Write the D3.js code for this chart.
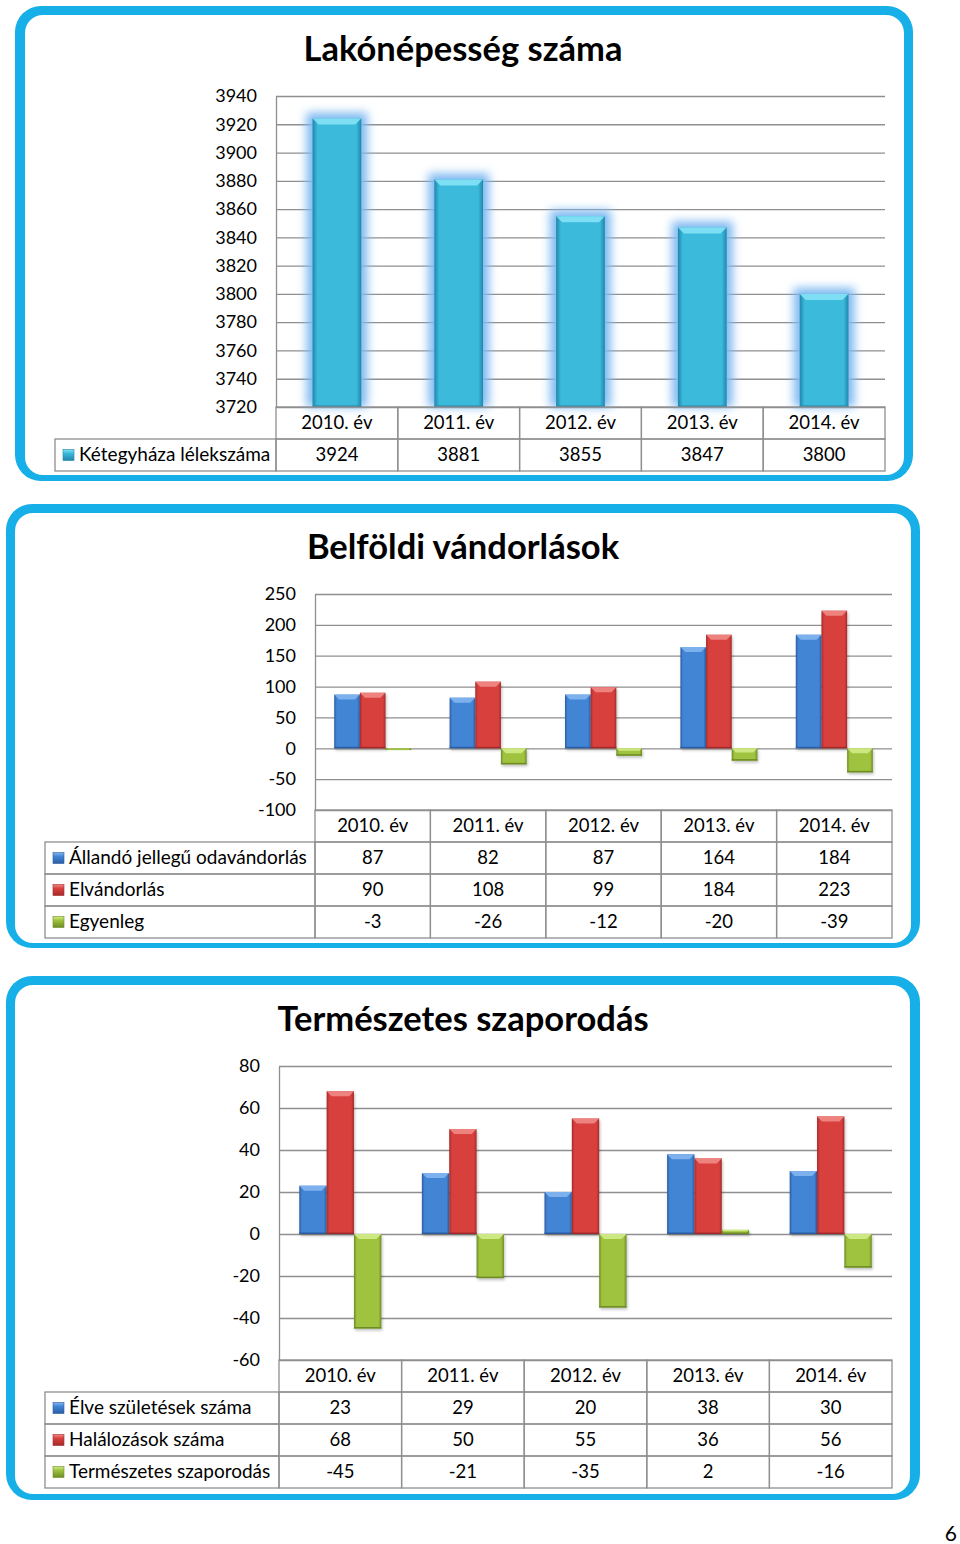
<!DOCTYPE html>
<html><head><meta charset="utf-8">
<script src="https://cdn.jsdelivr.net/npm/d3@7"></script>
<style>
body{margin:0;background:#fff}
svg{display:block}
text{font-family:Lato,"Open Sans",sans-serif}
</style>
</head><body>
<svg id="c" width="960" height="1544"></svg>
<script>
// ---------- data ----------
const years = ["2010. év", "2011. év", "2012. év", "2013. év", "2014. év"];

const populationTitle = "Lakónépesség száma";
const populationLabel = "Kétegyháza lélekszáma";
const population = [3924, 3881, 3855, 3847, 3800];
const populationTicks = [3720, 3740, 3760, 3780, 3800, 3820, 3840, 3860, 3880, 3900, 3920, 3940];

const migrationTitle = "Belföldi vándorlások";
const migrationLabels = ["Állandó jellegű odavándorlás", "Elvándorlás", "Egyenleg"];
const inMigration = [87, 82, 87, 164, 184];
const outMigration = [90, 108, 99, 184, 223];
const migrationBalance = [-3, -26, -12, -20, -39];
const migrationTicks = [-100, -50, 0, 50, 100, 150, 200, 250];

const naturalTitle = "Természetes szaporodás";
const naturalLabels = ["Élve születések száma", "Halálozások száma", "Természetes szaporodás"];
const births = [23, 29, 20, 38, 30];
const deaths = [68, 50, 55, 36, 56];
const naturalIncrease = [-45, -21, -35, 2, -16];
const naturalTicks = [-60, -40, -20, 0, 20, 40, 60, 80];

const pageNumber = "6";

// ---------- styles ----------
const palettes = {
  teal:  {dark: "#1f86ab", mid: "#3bbadb", light: "#86e2f6"},
  blue:  {dark: "#2a5da3", mid: "#4285d5", light: "#84b6ef"},
  red:   {dark: "#a32a29", mid: "#d8403e", light: "#f08a86"},
  green: {dark: "#6d8c24", mid: "#9fc33f", light: "#d2eb88"}
};
const frameColor = "#17afe7";
const gridColor = "#8f8f8f";

const svg = d3.select("#c");
const defs = svg.append("defs");
Object.entries(palettes).forEach(([k, p]) => {
  const g = defs.append("linearGradient").attr("id", "g-" + k)
    .attr("x1", 0).attr("x2", 1).attr("y1", 0).attr("y2", 0);
  [[0, p.dark], [0.1, p.mid], [0.5, p.mid], [0.9, p.mid], [1, p.dark]]
    .forEach(([o, c]) => g.append("stop").attr("offset", o).attr("stop-color", c));
  const kg = defs.append("linearGradient").attr("id", "k-" + k)
    .attr("x1", 0).attr("x2", 0).attr("y1", 0).attr("y2", 1);
  [[0, p.light], [0.35, p.mid], [1, p.dark]]
    .forEach(([o, c]) => kg.append("stop").attr("offset", o).attr("stop-color", c));
});
defs.append("filter").attr("id", "glow")
  .attr("x", "-60%").attr("y", "-20%").attr("width", "220%").attr("height", "140%")
  .append("feGaussianBlur").attr("stdDeviation", 5);
defs.append("filter").attr("id", "shadow")
  .attr("x", "-30%").attr("y", "-30%").attr("width", "160%").attr("height", "160%")
  .append("feGaussianBlur").attr("stdDeviation", 1.5);

// ---------- frames ----------
function frame(o, i) {
  svg.append("rect").attr("x", o[0]).attr("y", o[1]).attr("width", o[2] - o[0]).attr("height", o[3] - o[1])
    .attr("rx", 26).attr("fill", frameColor);
  svg.append("rect").attr("x", i[0]).attr("y", i[1]).attr("width", i[2] - i[0]).attr("height", i[3] - i[1])
    .attr("rx", 18).attr("fill", "#fff");
}
frame([15, 6, 913, 481], [25, 15, 904, 475]);
frame([6, 504, 920, 948], [15, 513, 911, 943]);
frame([6, 976, 920, 1500], [15, 985, 910, 1494]);

// ---------- chart ----------
function drawChart(cfg) {
  const g = svg.append("g");
  g.append("text").attr("x", 463).attr("y", cfg.titleY).attr("text-anchor", "middle")
    .attr("font-weight", 700).attr("font-size", 34.5).attr("fill", "#000").text(cfg.title);

  const x = d3.scaleBand().domain(years).range([cfg.left, cfg.right]);
  const y = d3.scaleLinear().domain(cfg.domain).range([cfg.bottom, cfg.top]);

  const axis = d3.axisLeft(y).tickValues(cfg.ticks)
    .tickSize(-(cfg.right - cfg.left)).tickSizeOuter(0).tickPadding(19)
    .tickFormat(d => String(d));
  const ag = g.append("g").attr("transform", `translate(${cfg.left},0)`).call(axis)
    .attr("font-family", "Lato").attr("font-size", 18);
  ag.selectAll("line").attr("stroke", gridColor).attr("stroke-width", 1.3);
  ag.select(".domain").attr("stroke", gridColor).attr("stroke-width", 1.3);
  ag.selectAll("text").attr("fill", "#000");

  // bars
  const bw = x.bandwidth();
  const gw = bw * cfg.groupFrac;
  const xs = d3.scaleBand().domain(d3.range(cfg.series.length)).range([(bw - gw) / 2, (bw + gw) / 2]);
  const base = y(cfg.base);
  const barG = g.append("g");
  cfg.series.forEach((s, si) => {
    const p = palettes[s.color];
    const items = s.values.map((v, i) => {
      const x0 = x(years[i]) + xs(si), w = xs.bandwidth();
      const yv = y(v);
      return {x0, w, y0: Math.min(yv, base), h: Math.abs(yv - base), neg: v < cfg.base};
    });
    if (cfg.glow) {
      barG.selectAll(null).data(items).join("rect")
        .attr("x", d => d.x0 - 6).attr("y", d => d.y0 - 6)
        .attr("width", d => d.w + 12).attr("height", d => d.h + 6)
        .attr("fill", "#7fb9f1").attr("filter", "url(#glow)");
    } else {
      barG.selectAll(null).data(items.filter(d => d.h > 4)).join("rect")
        .attr("x", d => d.x0 + 1).attr("y", d => d.y0 + 2)
        .attr("width", d => d.w).attr("height", d => d.h)
        .attr("fill", "#000").attr("opacity", 0.25).attr("filter", "url(#shadow)");
    }
    barG.selectAll(null).data(items).join("rect")
      .attr("x", d => d.x0).attr("y", d => d.y0)
      .attr("width", d => d.w).attr("height", d => Math.max(d.h, 1))
      .attr("fill", `url(#g-${s.color})`);
    // top bevel
    barG.selectAll(null).data(items.filter(d => d.h > 4)).join("polygon")
      .attr("points", d => {
        const b = Math.min(cfg.bevel, d.h / 3);
        return [[d.x0, d.y0], [d.x0 + d.w, d.y0], [d.x0 + d.w - b, d.y0 + b], [d.x0 + b, d.y0 + b]].join(" ");
      })
      .attr("fill", p.light).attr("opacity", 0.9);
    // bottom dark edge
    barG.selectAll(null).data(items.filter(d => d.h > 4)).join("rect")
      .attr("x", d => d.x0).attr("y", d => d.y0 + d.h - 1.5)
      .attr("width", d => d.w).attr("height", 1.5)
      .attr("fill", p.dark);
  });

  // table
  const rowH = 32;
  const tg = g.append("g").attr("fill", "none").attr("stroke", gridColor).attr("stroke-width", 1.3);
  const hdrTop = cfg.bottom;
  tg.selectAll(null).data(years).join("rect")
    .attr("x", d => x(d)).attr("y", hdrTop).attr("width", bw).attr("height", rowH);
  const txt = g.append("g").attr("font-size", 18.5).attr("fill", "#000");
  txt.selectAll(null).data(years).join("text")
    .attr("x", d => x(d) + bw / 2).attr("y", hdrTop + rowH / 2 + 6).attr("text-anchor", "middle").text(d => d);

  cfg.series.forEach((s, si) => {
    const rt = hdrTop + rowH * (si + 1);
    tg.append("rect").attr("x", cfg.tableLeft).attr("y", rt).attr("width", cfg.left - cfg.tableLeft).attr("height", rowH);
    tg.selectAll(null).data(years).join("rect")
      .attr("x", d => x(d)).attr("y", rt).attr("width", bw).attr("height", rowH);
    g.append("rect").attr("x", cfg.tableLeft + 8).attr("y", rt + rowH / 2 - 5.5)
      .attr("width", 11).attr("height", 11).attr("fill", `url(#k-${s.color})`)
      .attr("stroke", palettes[s.color].dark).attr("stroke-width", 0.6);
    txt.append("text").attr("x", cfg.tableLeft + 24).attr("y", rt + rowH / 2 + 6)
      .attr("font-size", 19).text(s.name);
    txt.selectAll(null).data(s.values).join("text")
      .attr("x", (d, i) => x(years[i]) + bw / 2).attr("y", rt + rowH / 2 + 6)
      .attr("text-anchor", "middle").text(d => String(d));
  });
}

drawChart({
  title: populationTitle, titleY: 61,
  left: 276, right: 885, top: 96, bottom: 407,
  domain: [3720, 3940], ticks: populationTicks, base: 3720,
  tableLeft: 55, groupFrac: 0.4, bevel: 6, glow: true,
  series: [{name: populationLabel, values: population, color: "teal"}]
});

drawChart({
  title: migrationTitle, titleY: 559,
  left: 315, right: 892, top: 594, bottom: 810,
  domain: [-100, 250], ticks: migrationTicks, base: 0,
  tableLeft: 45, groupFrac: 0.667, bevel: 5, glow: false,
  series: [
    {name: migrationLabels[0], values: inMigration, color: "blue"},
    {name: migrationLabels[1], values: outMigration, color: "red"},
    {name: migrationLabels[2], values: migrationBalance, color: "green"}
  ]
});

drawChart({
  title: naturalTitle, titleY: 1031,
  left: 279, right: 892, top: 1066, bottom: 1360,
  domain: [-60, 80], ticks: naturalTicks, base: 0,
  tableLeft: 45, groupFrac: 0.669, bevel: 5, glow: false,
  series: [
    {name: naturalLabels[0], values: births, color: "blue"},
    {name: naturalLabels[1], values: deaths, color: "red"},
    {name: naturalLabels[2], values: naturalIncrease, color: "green"}
  ]
});

svg.append("text").attr("x", 957).attr("y", 1541).attr("text-anchor", "end")
  .attr("font-family", "Liberation Sans, Arial, sans-serif").attr("font-size", 21).attr("fill", "#000").text(pageNumber);
</script>
</body></html>
